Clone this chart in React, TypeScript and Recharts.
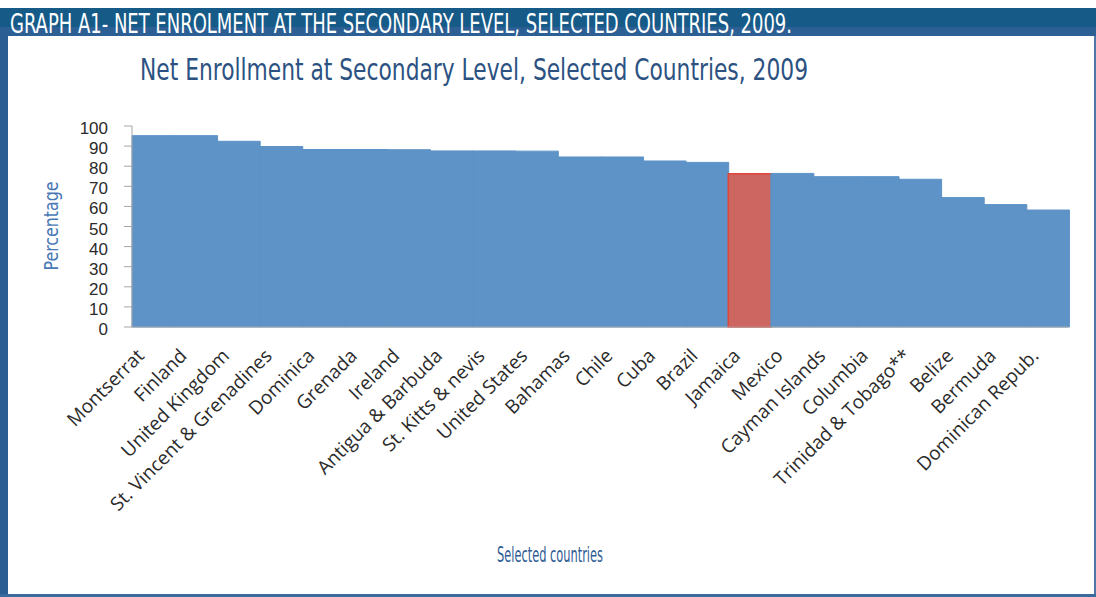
import { Bar, BarChart, Cell, XAxis, YAxis } from "recharts";

const countries = [
  "Montserrat",
  "Finland",
  "United Kingdom",
  "St. Vincent & Grenadines",
  "Dominica",
  "Grenada",
  "Ireland",
  "Antigua & Barbuda",
  "St. Kitts & nevis",
  "United States",
  "Bahamas",
  "Chile",
  "Cuba",
  "Brazil",
  "Jamaica",
  "Mexico",
  "Cayman Islands",
  "Columbia",
  "Trinidad & Tobago**",
  "Belize",
  "Bermuda",
  "Dominican Repub.",
];

const enrolment = [
  95.2, 95.2, 92.4, 89.8, 88.3, 88.3, 88.2, 87.6, 87.6, 87.5, 84.6, 84.6, 82.6,
  81.9, 76.3, 76.4, 74.8, 74.8, 73.5, 64.4, 60.9, 58.2,
];

const yTicks = [0, 10, 20, 30, 40, 50, 60, 70, 80, 90, 100];

const highlighted = "Jamaica";

const data = countries.map((name, i) => ({ name, value: enrolment[i] }));

const labelFont = "'Open Sans', 'DejaVu Sans', sans-serif";
const tickFont = "'Liberation Sans', Arial, sans-serif";
const titleFont = "'DejaVu Sans Condensed', 'Liberation Sans Narrow', 'DejaVu Sans', sans-serif";

function CountryTick(props: any) {
  const { x, y, payload } = props;
  const ax = x - 8;
  const ay = y + 30;
  return (
    <text
      x={ax}
      y={ay}
      transform={`rotate(-45, ${ax}, ${ay})`}
      textAnchor="end"
      fontSize={19}
      fontFamily={labelFont}
      fill="#2b2b2b"
    >
      {payload.value}
    </text>
  );
}

export default function App() {
  return (
    <div
      style={{
        position: "absolute",
        left: 0,
        top: 0,
        width: 1096,
        height: 597,
        background: "#ffffff",
        overflow: "hidden",
      }}
    >
      {/* frame */}
      <div style={{ position: "absolute", left: 0, top: 8, width: 1096, height: 19, background: "#165a88" }} />
      <div style={{ position: "absolute", left: 0, top: 27, width: 1096, height: 9, background: "#2c5f94" }} />
      <div style={{ position: "absolute", left: 0, top: 27, width: 8, height: 570, background: "#2b5e93" }} />
      <div style={{ position: "absolute", left: 1094, top: 36, width: 2, height: 561, background: "#4d77a6" }} />
      <div style={{ position: "absolute", left: 0, top: 594, width: 1096, height: 3, background: "#3b6b9d" }} />

      <div style={{ position: "absolute", left: 0, top: 0 }}>
        <BarChart
          width={1096}
          height={597}
          data={data}
          margin={{ top: 126, right: 27, bottom: 70, left: 0 }}
          barCategoryGap={0}
        >
          <XAxis
            dataKey="name"
            interval={0}
            height={200}
            tickLine={false}
            tickSize={0}
            tickMargin={0}
            axisLine={{ stroke: "#a6a6a6" }}
            tick={<CountryTick />}
          />
          <YAxis
            width={132}
            domain={[0, 100]}
            ticks={yTicks}
            interval={0}
            tickSize={8}
            tickMargin={16}
            axisLine={{ stroke: "#a6a6a6" }}
            tickLine={{ stroke: "#a6a6a6" }}
            tick={{ fontSize: 17, fill: "#2b2b2b", fontFamily: tickFont, dy: 2 }}
          />
          <Bar dataKey="value" isAnimationActive={false}>
            {data.map((d) => (
              <Cell
                key={d.name}
                fill={d.name === highlighted ? "#cd6660" : "#5e93c7"}
                stroke={d.name === highlighted ? "#e0463c" : "#5e93c7"}
                strokeWidth={d.name === highlighted ? 1.5 : 1}
              />
            ))}
          </Bar>
        </BarChart>
      </div>

      {/* texts */}
      <svg
        width={1096}
        height={597}
        style={{ position: "absolute", left: 0, top: 0, pointerEvents: "none" }}
      >
        <text
          x={10}
          y={33}
          fontSize={27}
          fontFamily={titleFont}
          fill="#ffffff"
          textLength={782}
          lengthAdjust="spacingAndGlyphs"
        >
          GRAPH A1- NET ENROLMENT AT THE SECONDARY LEVEL, SELECTED COUNTRIES, 2009.
        </text>
        <text
          x={140}
          y={80}
          fontSize={30}
          fontFamily={titleFont}
          fill="#2c5282"
          textLength={668}
          lengthAdjust="spacingAndGlyphs"
        >
          Net Enrollment at Secondary Level, Selected Countries, 2009
        </text>
        <text
          x={58}
          y={226}
          transform="rotate(-90, 58, 226)"
          textAnchor="middle"
          fontSize={19}
          fontFamily={titleFont}
          fill="#4a78b5"
          textLength={89}
          lengthAdjust="spacingAndGlyphs"
        >
          Percentage
        </text>
        <text
          x={497}
          y={562}
          fontSize={22}
          fontFamily={titleFont}
          fill="#2f5c94"
          textLength={106}
          lengthAdjust="spacingAndGlyphs"
        >
          Selected countries
        </text>
      </svg>
    </div>
  );
}
